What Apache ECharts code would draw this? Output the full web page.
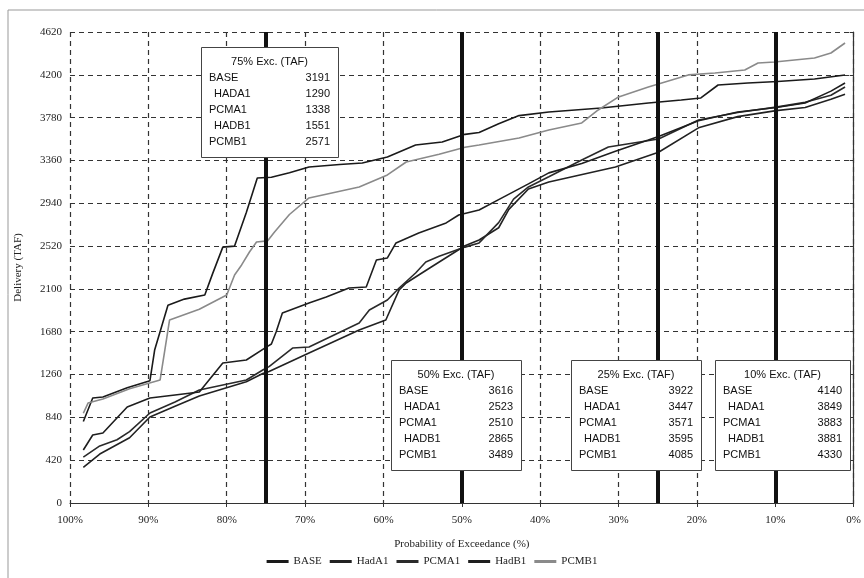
<!DOCTYPE html>
<html>
<head>
<meta charset="utf-8">
<script src="https://cdn.jsdelivr.net/npm/echarts@6/dist/echarts.min.js"></script>
<style>
  html, body { margin: 0; padding: 0; background: #fff; }
  #chart { width: 864px; height: 578px; }
</style>
</head>
<body>
<div id="chart"></div>
<script>
// exceedance probability (%) vs delivery (TAF)
const baseData = [[98.3, 800], [97.1, 1030], [95.8, 1040], [92.7, 1130], [89.8, 1200], [89.2, 1500], [87.5, 1940],
  [85.4, 2000], [82.8, 2040], [81.8, 2250], [80.5, 2510], [79.0, 2520], [77.5, 2850], [76.1, 3188], [74.3, 3195],
  [72.0, 3240], [69.5, 3296], [65.6, 3320], [62.7, 3335], [59.5, 3394], [55.9, 3512], [52.5, 3541], [49.6, 3616],
  [47.8, 3635], [45.3, 3720], [42.7, 3800], [38.9, 3836], [32.2, 3875], [26.2, 3924], [22.0, 3953], [19.5, 3973],
  [17.3, 4100], [13.5, 4120], [9.7, 4135], [5.0, 4159], [1.1, 4199]]
const hada1Data = [[98.3, 350], [96.2, 480], [92.4, 640], [89.8, 844], [86.6, 950], [83.5, 1050], [77.5, 1190],
  [75.4, 1270], [74.6, 1290], [69.5, 1471], [63.1, 1697], [59.7, 1795], [58.0, 2090], [57.1, 2158], [54.2, 2300],
  [49.6, 2523], [47.8, 2580], [45.3, 2700], [44.0, 2880], [41.5, 3080], [38.9, 3149], [30.4, 3296], [24.9, 3440],
  [19.8, 3680], [14.8, 3790], [9.9, 3849], [6.2, 3880], [2.9, 3960], [1.1, 4010]]
const pcma1Data = [[98.3, 450], [96.2, 560], [94.0, 620], [92.4, 700], [89.8, 883], [86.6, 990], [83.5, 1108],
  [77.5, 1207], [75.4, 1305], [74.6, 1338], [71.6, 1520], [69.5, 1530], [63.1, 1766], [61.8, 1893], [59.5, 1991],
  [58.0, 2109], [55.9, 2256], [54.6, 2364], [52.9, 2420], [49.6, 2510], [47.8, 2551], [45.3, 2750], [43.4, 2980],
  [41.5, 3100], [38.9, 3200], [34.7, 3365], [31.3, 3492], [24.9, 3571], [19.8, 3757], [14.8, 3830], [9.9, 3883],
  [6.2, 3930], [2.9, 4000], [1.1, 4080]]
const hadb1Data = [[98.3, 520], [97.1, 667], [95.8, 687], [92.7, 942], [89.8, 1030], [86.6, 1060], [83.5, 1089],
  [80.5, 1373], [77.5, 1403], [74.9, 1531], [74.3, 1560], [73.7, 1678], [72.9, 1864], [69.5, 1962], [67.3, 2021],
  [64.4, 2109], [62.2, 2119], [60.9, 2384], [59.5, 2404], [58.4, 2551], [55.5, 2649], [52.0, 2747], [50.4, 2825],
  [47.8, 2874], [44.7, 3000], [41.5, 3130], [38.9, 3238], [34.7, 3330], [30.4, 3450], [26.2, 3560], [24.9, 3595],
  [19.8, 3750], [14.8, 3836], [9.9, 3880], [6.2, 3924], [2.9, 4040], [1.1, 4120]]
const pcmb1Data = [[98.3, 880], [97.7, 980], [95.8, 1020], [92.4, 1120], [88.5, 1207], [87.9, 1500], [87.3, 1795],
  [83.5, 1900], [80.0, 2040], [79.0, 2237], [78.1, 2335], [77.1, 2462], [76.2, 2560], [74.8, 2571], [73.9, 2658],
  [72.0, 2830], [69.5, 2992], [63.1, 3100], [59.5, 3218], [57.1, 3345], [52.9, 3420], [49.6, 3489], [47.8, 3512],
  [42.7, 3580], [38.9, 3659], [34.7, 3728], [32.6, 3855], [30.0, 3983], [26.2, 4080], [21.1, 4199], [17.7, 4218],
  [13.9, 4247], [12.2, 4316], [10.1, 4326], [5.0, 4365], [2.9, 4414], [1.1, 4512]]

const seriesNames = ['BASE', 'HadA1', 'PCMA1', 'HadB1', 'PCMB1']

// summary boxes
const excLevels = [75, 50, 25, 10]
const tableNames = ['BASE', ' HADA1', 'PCMA1', ' HADB1', 'PCMB1']
const exc75 = [3191, 1290, 1338, 1551, 2571]
const exc50 = [3616, 2523, 2510, 2865, 3489]
const exc25 = [3922, 3447, 3571, 3595, 4085]
const exc10 = [4140, 3849, 3883, 3881, 4330]
const excValues = [exc75, exc50, exc25, exc10]

// box placement (top anchored at a delivery value, shifted from the marker line)
const boxTop = [4475, 1400, 1400, 1400]
const boxShift = [-65, -71, -87, -60]
const boxW = [137, 130, 130, 135]
const boxH = 110

const serif = 'Liberation Serif'
const sans = 'Liberation Sans'
const lineColors = ['#1a1a1a', '#222', '#2a2a2a', '#1e1e1e', '#8a8a8a']
const allData = [baseData, hada1Data, pcma1Data, hadb1Data, pcmb1Data]

const chart = echarts.init(document.getElementById('chart'))

const series = seriesNames.map((name, i) => ({
  name,
  type: 'line',
  data: allData[i],
  showSymbol: false,
  lineStyle: { color: lineColors[i], width: 1.6 },
  itemStyle: { color: lineColors[i] },
  z: 3
}))
series[0].markLine = {
  silent: true,
  symbol: 'none',
  label: { show: false },
  lineStyle: { color: '#111', width: 4, type: 'solid' },
  data: excLevels.map(v => ({ xAxis: v }))
}

chart.setOption({
  animation: false,
  backgroundColor: '#fff',
  grid: { left: 70, right: 8, top: 32, bottom: 75 },
  legend: {
    bottom: 6,
    left: 'center',
    icon: 'rect',
    itemWidth: 22,
    itemHeight: 3,
    itemGap: 8,
    textStyle: { fontFamily: serif, fontSize: 11, color: '#222' },
    data: seriesNames
  },
  xAxis: {
    type: 'value',
    inverse: true,
    min: 0,
    max: 100,
    interval: 10,
    name: 'Probability of Exceedance (%)',
    nameLocation: 'middle',
    nameGap: 36,
    nameTextStyle: { fontFamily: serif, fontSize: 11, color: '#222' },
    axisLine: { lineStyle: { color: '#333', width: 1.2 } },
    axisTick: { show: true, length: 4, lineStyle: { color: '#333' } },
    axisLabel: { fontFamily: serif, fontSize: 11, color: '#222', margin: 12, formatter: v => v + '%' },
    splitLine: { show: true, lineStyle: { color: '#333', type: [5, 4], width: 1.2 } }
  },
  yAxis: {
    type: 'value',
    min: 0,
    max: 4620,
    interval: 420,
    name: 'Delivery (TAF)',
    nameLocation: 'middle',
    nameGap: 46,
    nameTextStyle: { fontFamily: serif, fontSize: 11, color: '#222' },
    axisLine: { show: true, lineStyle: { color: '#333', width: 1.2 } },
    axisTick: { show: true, length: 4, lineStyle: { color: '#333' } },
    axisLabel: { fontFamily: serif, fontSize: 11, color: '#222', margin: 8, formatter: v => String(v) },
    splitLine: { show: true, lineStyle: { color: '#333', type: [5, 4], width: 1.2 } }
  },
  series
})

// summary boxes drawn over the marker lines
const graphics = [{
  type: 'rect',
  shape: { x: 8, y: 10, width: 900, height: 620 },
  style: { fill: 'none', stroke: '#999', lineWidth: 1 },
  silent: true,
  z: 0
}]
const TOP_Z = 100
excLevels.forEach((lvl, k) => {
  const p = chart.convertToPixel({ gridIndex: 0 }, [lvl, boxTop[k]])
  const left = Math.round(p[0] + boxShift[k])
  const top = Math.round(p[1])
  const w = boxW[k]
  graphics.push({ type: 'rect', z: TOP_Z, shape: { x: left + 0.5, y: top + 0.5, width: w, height: boxH },
    style: { fill: '#fff', stroke: '#444', lineWidth: 1 } })
  graphics.push({ type: 'text', z: TOP_Z + 1, x: left + w / 2, y: top + 15,
    style: { text: lvl + '% Exc. (TAF)', align: 'center', verticalAlign: 'middle', font: '11px ' + sans, fill: '#111' } })
  tableNames.forEach((n, j) => {
    const y = top + 31 + j * 16
    graphics.push({ type: 'text', z: TOP_Z + 1, x: left + (n.startsWith(' ') ? 13 : 8), y,
      style: { text: n.trim(), align: 'left', verticalAlign: 'middle', font: '11px ' + sans, fill: '#111' } })
    graphics.push({ type: 'text', z: TOP_Z + 1, x: left + w - 8, y,
      style: { text: String(excValues[k][j]), align: 'right', verticalAlign: 'middle', font: '11px ' + sans, fill: '#111' } })
  })
})
chart.setOption({ graphic: graphics })

window.addEventListener('resize', () => chart.resize())
</script>
</body>
</html>
